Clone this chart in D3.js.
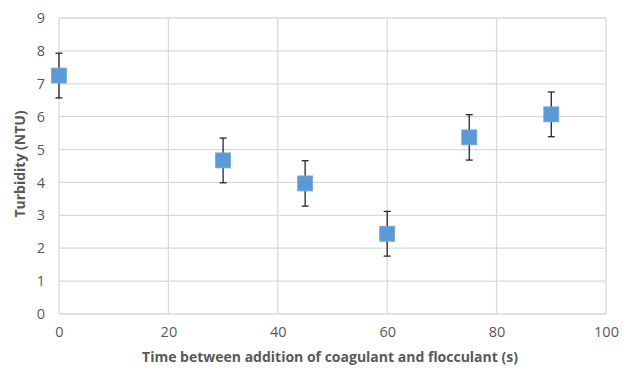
<!DOCTYPE html>
<html><head><meta charset="utf-8">
<script src="https://cdn.jsdelivr.net/npm/d3@7"></script>
<style>body{margin:0;background:#fff}svg{display:block}text{font-family:"Open Sans",Lato,sans-serif}</style>
</head><body>
<script>
const times = [0, 30, 45, 60, 75, 90];
const turbidity = [7.25, 4.67, 3.97, 2.44, 5.37, 6.07];
const errors = [0.68, 0.68, 0.69, 0.68, 0.69, 0.68];
const xTicks = [0, 20, 40, 60, 80, 100];
const yTicks = [0, 1, 2, 3, 4, 5, 6, 7, 8, 9];
const xTitle = "Time between addition of coagulant and flocculant (s)";
const yTitle = "Turbidity (NTU)";

const W = 629, H = 371;
const m = {left: 59, right: 23, top: 18, bottom: 57};
const svg = d3.select("body").append("svg").attr("width", W).attr("height", H);
const x = d3.scaleLinear().domain([0, 100]).range([m.left, W - m.right]);
const y = d3.scaleLinear().domain([0, 9]).range([H - m.bottom, m.top]);

const grid = svg.append("g");
grid.selectAll(".h").data(yTicks).join("line")
  .attr("x1", x(0)).attr("x2", x(100))
  .attr("y1", d => y(d)).attr("y2", d => y(d))
  .attr("stroke", "#d9d9d9").attr("stroke-width", 1.3);
grid.selectAll(".v").data(xTicks).join("line")
  .attr("y1", y(0)).attr("y2", y(9))
  .attr("x1", d => x(d)).attr("x2", d => x(d))
  .attr("stroke", "#d9d9d9").attr("stroke-width", 1.3);

const yAxis = svg.append("g").attr("transform", `translate(${x(0)},0)`)
  .call(d3.axisLeft(y).tickValues(yTicks).tickSize(0).tickPadding(14));
yAxis.select(".domain").remove();
yAxis.selectAll("text").attr("fill", "#595959").style("font-size", "14.5px");

const xAxis = svg.append("g").attr("transform", `translate(0,${y(0)})`)
  .call(d3.axisBottom(x).tickValues(xTicks).tickSize(0).tickPadding(13));
xAxis.select(".domain").remove();
xAxis.selectAll("text").attr("fill", "#595959").style("font-size", "14.5px");

svg.append("text").attr("x", 330).attr("y", 362)
  .attr("text-anchor", "middle").attr("fill", "#595959")
  .style("font-size", "14px").style("font-weight", "bold").text(xTitle);
svg.append("text").attr("transform", `translate(25,${164}) rotate(-90)`)
  .attr("text-anchor", "middle").attr("fill", "#595959")
  .style("font-size", "14px").style("font-weight", "bold").text(yTitle);

const data = times.map((t, i) => ({t, v: turbidity[i], e: errors[i]}));
const eb = svg.append("g").attr("stroke", "#262626").attr("stroke-width", 1.3);
eb.selectAll(".s").data(data).join("line")
  .attr("x1", d => x(d.t)).attr("x2", d => x(d.t))
  .attr("y1", d => y(d.v + d.e)).attr("y2", d => y(d.v - d.e));
eb.selectAll(".ct").data(data).join("line")
  .attr("x1", d => x(d.t) - 3.5).attr("x2", d => x(d.t) + 3.5)
  .attr("y1", d => y(d.v + d.e)).attr("y2", d => y(d.v + d.e));
eb.selectAll(".cb").data(data).join("line")
  .attr("x1", d => x(d.t) - 3.5).attr("x2", d => x(d.t) + 3.5)
  .attr("y1", d => y(d.v - d.e)).attr("y2", d => y(d.v - d.e));

svg.append("g").selectAll("rect").data(data).join("rect")
  .attr("x", d => x(d.t) - 7.5).attr("y", d => y(d.v) - 7.5)
  .attr("width", 15).attr("height", 15)
  .attr("fill", "#5b9bd5").attr("stroke", "#6fa8dc").attr("stroke-width", 0.8);
</script>
</body></html>
